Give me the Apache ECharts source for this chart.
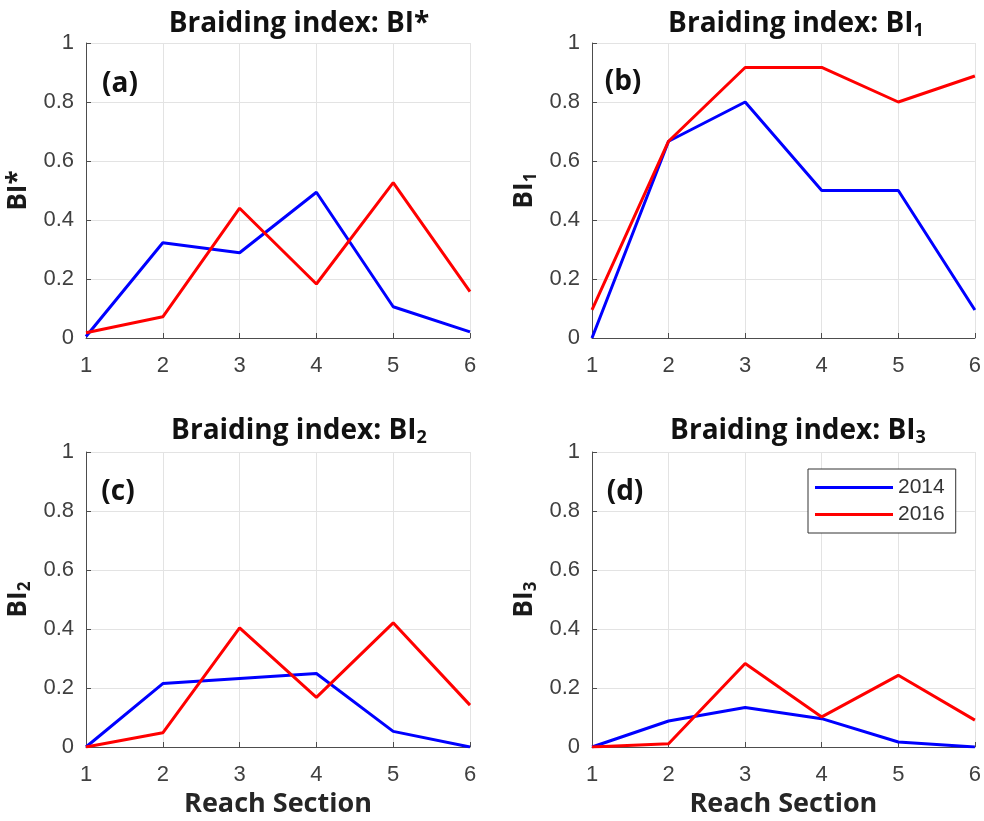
<!DOCTYPE html>
<html>
<head>
<meta charset="utf-8">
<script src="https://cdn.jsdelivr.net/npm/echarts@6/dist/echarts.min.js"></script>
<style>
html,body{margin:0;padding:0;background:#fff;}
#c{width:984px;height:821px;}
</style>
</head>
<body>
<div id="c"></div>
<script>
// ---- data ----
const reachSections = [1, 2, 3, 4, 5, 6];
const yTicks = [0, 0.2, 0.4, 0.6, 0.8, 1];
const years = ['2014', '2016'];

const biStar2014 = [0.005, 0.323, 0.289, 0.494, 0.106, 0.021];
const biStar2016 = [0.018, 0.072, 0.440, 0.183, 0.527, 0.157];

const bi1_2014 = [0.0, 0.667, 0.800, 0.500, 0.500, 0.095];
const bi1_2016 = [0.095, 0.667, 0.917, 0.917, 0.800, 0.888];

const bi2_2014 = [0.0, 0.215, 0.232, 0.249, 0.053, 0.0];
const bi2_2016 = [0.0, 0.048, 0.404, 0.168, 0.421, 0.142];

const bi3_2014 = [0.0, 0.088, 0.134, 0.096, 0.017, 0.0];
const bi3_2016 = [0.0, 0.011, 0.283, 0.102, 0.243, 0.091];

const panelTitles = ['Braiding index: BI*', 'Braiding index: BI', 'Braiding index: BI', 'Braiding index: BI'];
const panelSubs = ['', '1', '2', '3'];
const yNames = ['BI*', 'BI', 'BI', 'BI'];
const panelLetters = ['(a)', '(b)', '(c)', '(d)'];
const xName = 'Reach Section';

// ---- layout ----
const grids = [
  {left: 86, top: 43, width: 384, height: 295},
  {left: 592, top: 43, width: 383, height: 295},
  {left: 86, top: 452, width: 384, height: 295},
  {left: 592, top: 452, width: 383, height: 295}
];
const titlePos = [[299, 24], [796, 24], [299, 431], [798, 431]];
const letterPos = [[120, 84], [623, 82], [118, 492], [625, 492]];

const seriesData = [
  [biStar2014, biStar2016],
  [bi1_2014, bi1_2016],
  [bi2_2014, bi2_2016],
  [bi3_2014, bi3_2016]
];
const colors = ['#0000ff', '#ff0000'];

const TITLE_FONT = '"Open Sans", Lato, sans-serif';
const TICK_FONT = '"Liberation Sans", Arial, sans-serif';

function pairs(vals) {
  return reachSections.map((x, i) => [x, vals[i]]);
}

const xAxes = [], yAxes = [], series = [], graphics = [];
grids.forEach((g, i) => {
  xAxes.push({
    type: 'value', gridIndex: i, min: 1, max: 6, interval: 1,
    name: i >= 2 ? xName : '',
    nameLocation: 'middle', nameGap: 44,
    nameTextStyle: {fontFamily: TITLE_FONT, fontWeight: 'bold', fontSize: 27, color: '#262626'},
    axisLine: {show: true, onZero: false, lineStyle: {color: '#4d4d4d', width: 1}},
    axisTick: {show: true, inside: true, length: 5, lineStyle: {color: '#4d4d4d'}},
    axisLabel: {fontFamily: TICK_FONT, fontSize: 22, color: '#404040', margin: 17},
    splitLine: {show: true, lineStyle: {color: '#e3e3e3', width: 1}}
  });
  yAxes.push({
    type: 'value', gridIndex: i, min: 0, max: 1, interval: 0.2,
    name: panelSubs[i] ? '{m|' + yNames[i] + '}{s|' + panelSubs[i] + '}' : '{m|' + yNames[i] + '}',
    nameLocation: 'middle', nameGap: 52, nameRotate: 90,
    nameTextStyle: {
      rich: {
        m: {fontFamily: TITLE_FONT, fontWeight: 'bold', fontSize: 26, color: '#1a1a1a', lineHeight: 30},
        s: {fontFamily: TITLE_FONT, fontWeight: 'bold', fontSize: 17, color: '#1a1a1a', lineHeight: 16, verticalAlign: 'bottom'}
      }
    },
    axisLine: {show: true, onZero: false, lineStyle: {color: '#4d4d4d', width: 1}},
    axisTick: {show: true, inside: true, length: 5, lineStyle: {color: '#4d4d4d'}},
    axisLabel: {fontFamily: TICK_FONT, fontSize: 22, color: '#404040', margin: 12},
    splitLine: {show: true, lineStyle: {color: '#e3e3e3', width: 1}}
  });
  seriesData[i].forEach((vals, k) => {
    series.push({
      type: 'line', name: years[k], xAxisIndex: i, yAxisIndex: i,
      data: pairs(vals), showSymbol: false, symbol: 'none',
      lineStyle: {color: colors[k], width: 3}, itemStyle: {color: colors[k]},
      z: 3 + k, animation: false
    });
  });
  graphics.push({
    type: 'text', x: titlePos[i][0], y: titlePos[i][1],
    style: {
      text: panelSubs[i] ? '{m|' + panelTitles[i] + '}{s|' + panelSubs[i] + '}' : '{m|' + panelTitles[i] + '}',
      align: 'center', verticalAlign: 'middle',
      rich: {
        m: {fontFamily: TITLE_FONT, fontWeight: 'bold', fontSize: 28, fill: '#111', lineHeight: 32},
        s: {fontFamily: TITLE_FONT, fontWeight: 'bold', fontSize: 18, fill: '#111', lineHeight: 17, verticalAlign: 'bottom'}
      }
    }
  });
  graphics.push({
    type: 'text', x: letterPos[i][0], y: letterPos[i][1],
    style: {
      text: panelLetters[i], align: 'center', verticalAlign: 'middle',
      font: 'bold 28px ' + TITLE_FONT, fill: '#111'
    }
  });
});

const chart = echarts.init(document.getElementById('c'), null, {renderer: 'canvas'});
chart.setOption({
  animation: false,
  backgroundColor: '#fff',
  grid: grids.map(g => Object.assign({containLabel: false}, g)),
  xAxis: xAxes,
  yAxis: yAxes,
  series: series,
  legend: {
    data: years, orient: 'vertical', left: 808, top: 469,
    icon: 'rect', itemWidth: 78, itemHeight: 3, itemGap: 6,
    padding: [8, 11, 8, 7],
    borderColor: '#333', borderWidth: 1, backgroundColor: '#fff',
    textStyle: {fontFamily: TICK_FONT, fontSize: 21, color: '#333'},
    selectedMode: false
  },
  graphic: graphics
});
</script>
</body>
</html>
